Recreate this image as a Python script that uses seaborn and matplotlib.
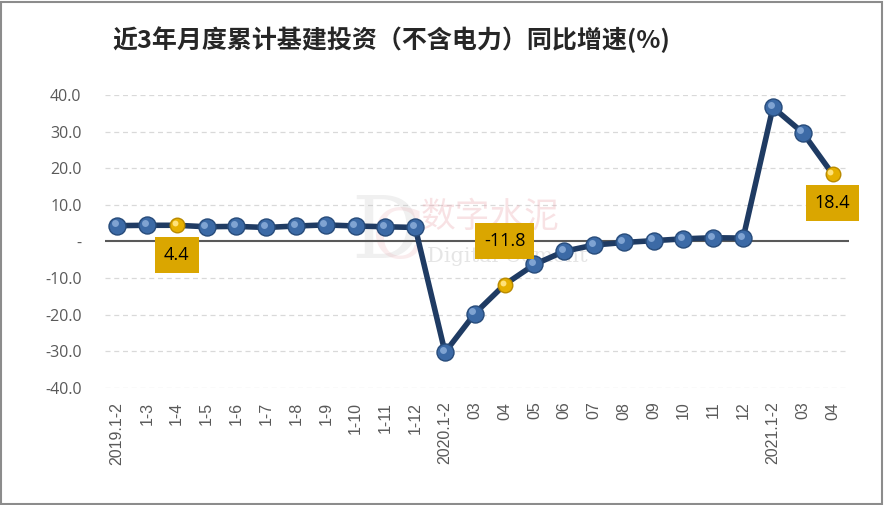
import matplotlib
matplotlib.use("Agg")
import matplotlib.pyplot as plt
import seaborn as sns
import pandas as pd

categories = ["2019.1-2", "1-3", "1-4", "1-5", "1-6", "1-7", "1-8", "1-9", "1-10", "1-11", "1-12",
              "2020.1-2", "03", "04", "05", "06", "07", "08", "09", "10", "11", "12",
              "2021.1-2", "03", "04"]
values = [4.3, 4.4, 4.4, 4.0, 4.1, 3.8, 4.2, 4.5, 4.2, 4.0, 3.8,
          -30.3, -19.7, -11.8, -6.3, -2.7, -1.0, -0.3, 0.2, 0.7, 1.0, 0.9,
          36.6, 29.7, 18.4]
highlight_idx = [2, 13, 24]
yticks = [40, 30, 20, 10, 0, -10, -20, -30, -40]
ytick_labels = ["40.0", "30.0", "20.0", "10.0", "-", "-10.0", "-20.0", "-30.0", "-40.0"]
title = "近3年月度累计基建投资（不含电力）同比增速(%)"

sns.set_theme(style="white")
plt.rcParams['font.family'] = ['Noto Sans CJK SC', 'DejaVu Sans']

df = pd.DataFrame({"pos": list(range(len(categories))), "val": values, "cat": categories})

fig = plt.figure(figsize=(8.84, 5.05), dpi=100)
ax = fig.add_axes([0.119, 0.232, 0.841, 0.580])

# grid lines
for yt in yticks:
    if yt != 0:
        ax.axhline(yt, color="#D9D9D9", lw=0.9, ls=(0, (4, 3)), zorder=0)
ax.axhline(0, color="#595959", lw=1.5, zorder=1)

# watermark
ax.text(9.0, 2.0, "D", fontsize=62, color="#BBBBBB", alpha=0.22, family="DejaVu Serif",
        ha="center", va="center", zorder=0)
ax.text(9.4, 0.5, "C", fontsize=50, color="#E8A0A8", alpha=0.2, family="DejaVu Serif",
        ha="center", va="center", zorder=0)
ax.text(12.5, 6.5, "数字水泥", fontsize=25, color="#E8A0A8", alpha=0.3, ha="center", va="center", zorder=0)
ax.text(13.1, -4.0, "Digital Cement", fontsize=15, color="#AAAAAA", alpha=0.3,
        family="DejaVu Serif", ha="center", va="center", zorder=0)

sns.lineplot(data=df, x="pos", y="val", ax=ax, color="#1F3B63", lw=4, zorder=3, legend=False)
normal = df.drop(index=highlight_idx)
hl = df.loc[highlight_idx]
sns.scatterplot(data=normal, x="pos", y="val", ax=ax, s=150, color="#3C6AA6",
                edgecolor="#274B7A", linewidth=1.0, zorder=4, legend=False)
sns.scatterplot(data=hl, x="pos", y="val", ax=ax, s=110, color="#E6B000",
                edgecolor="#B98A00", linewidth=1.0, zorder=4, legend=False)
# sphere highlights
sns.scatterplot(data=normal, x=normal["pos"] - 0.08, y=normal["val"] + 0.6, ax=ax, s=25,
                color="#7FA3D2", linewidth=0, zorder=5, legend=False)
sns.scatterplot(data=hl, x=hl["pos"] - 0.07, y=hl["val"] + 0.5, ax=ax, s=18,
                color="#FFE27A", linewidth=0, zorder=5, legend=False)

# data labels
label_offsets = {2: (0.0, -8.0), 13: (0.0, 11.8), 24: (0.0, -8.0)}
for i in highlight_idx:
    dx, dy = label_offsets[i]
    ax.text(i + dx, values[i] + dy, f"{values[i]:.1f}", ha="center", va="center",
            fontsize=13, color="black", family=["Open Sans", "DejaVu Sans"], zorder=6,
            bbox=dict(boxstyle="square,pad=0.5", fc="#DAA600", ec="none"))

ax.set_xlim(-0.4, 24.54)
ax.set_ylim(-40, 40)
ax.set_yticks(yticks)
ax.set_yticklabels(ytick_labels, fontsize=11.5, color="#595959", family=["Open Sans", "DejaVu Sans"])
ax.set_xticks(range(len(categories)))
ax.set_xticklabels(categories, rotation=90, fontsize=11.5, color="#595959",
                   family=["Liberation Sans", "DejaVu Sans"])
ax.tick_params(axis="y", length=0, pad=17)
ax.tick_params(axis="x", length=0, pad=10)
ax.set_xlabel("")
ax.set_ylabel("")
for sp in ax.spines.values():
    sp.set_visible(False)

fig.text(0.127, 0.922, title, fontsize=18, fontweight="bold", color="#262626", ha="left", va="center")

# figure border
fig.patches.append(plt.Rectangle((0.001, 0.001), 0.997, 0.996, transform=fig.transFigure,
                                 fill=False, ec="#8C8C8C", lw=1.5))

fig.savefig("out.png", dpi=100)
